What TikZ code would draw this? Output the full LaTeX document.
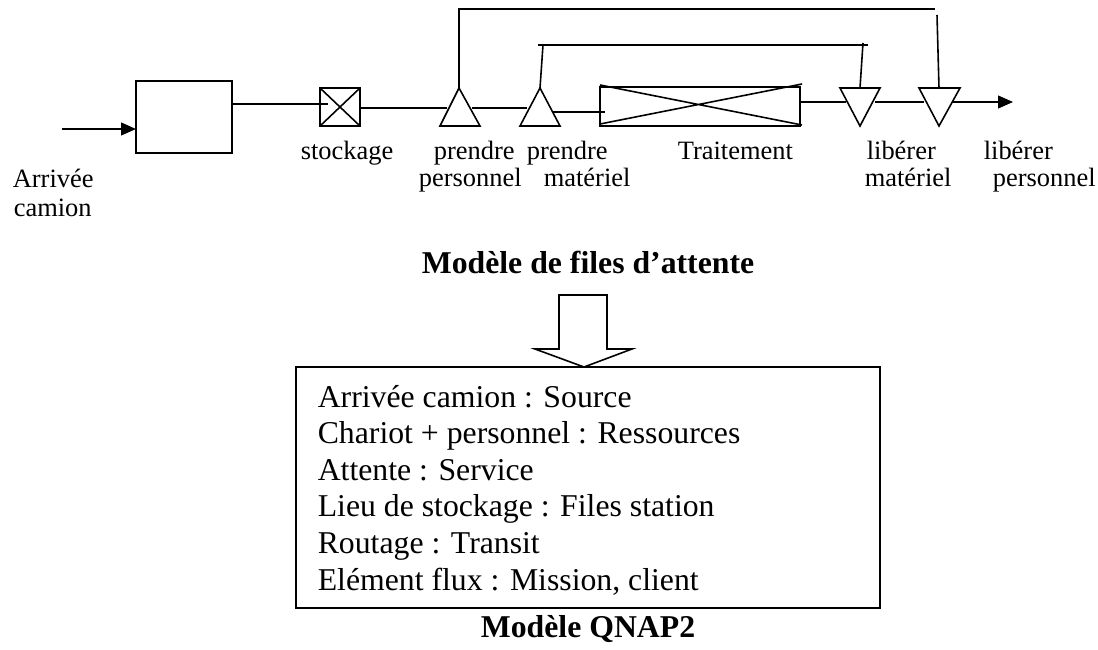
\documentclass[tikz,border=0pt]{standalone}
\usepackage{fontspec}
\setmainfont{Liberation Serif}
\usetikzlibrary{arrows.meta}
\begin{document}
\begin{tikzpicture}[x=0.378pt,y=-0.378pt,line width=0.6pt,
  lbl/.style={inner sep=0pt,anchor=base west,font=\fontsize{10}{12}\selectfont},
  txt/.style={inner sep=0pt,anchor=base west,font=\fontsize{12}{14}\selectfont},
  ttl/.style={inner sep=0pt,anchor=base,font=\fontsize{12}{14}\selectfont\bfseries},
  tip/.style={-{Triangle[length=5.6pt,width=4.8pt]}},
  shape line/.style={line width=0.6pt}]
\useasboundingbox (0,0) rectangle (1098,649);

% ---------- shapes ----------
% source box
\coordinate (srcNW) at (136,81);
\coordinate (srcSE) at (232,153);
\draw[shape line] (srcNW) rectangle (srcSE);
% storage square
\coordinate (stoNW) at (320,88);
\coordinate (stoSE) at (360,126);
\draw[shape line] (stoNW) rectangle (stoSE);
\draw[shape line] (320,88) -- (360,126) (320,126) -- (360,88);
% take personnel (triangle up)
\coordinate (t1apex) at (459,88);
\draw[shape line] (t1apex) -- (480,126) -- (440,126) -- cycle;
% take material
\coordinate (t2apex) at (540,88);
\draw[shape line] (t2apex) -- (560,126) -- (520,126) -- cycle;
% treatment box
\coordinate (trNW) at (600,87);
\coordinate (trSE) at (800,126);
\draw[shape line] (trNW) rectangle (trSE);
\draw[shape line] (600,85) -- (802,125) (600,124) -- (802,84);
% release material (triangle down)
\coordinate (t3top) at (860,88);
\draw[shape line] (840,88) -- (880,88) -- (860,126) -- cycle;
% release personnel
\coordinate (t4top) at (939,88);
\draw[shape line] (919,88) -- (960,88) -- (939,126) -- cycle;

% ---------- connector points ----------
\coordinate (inStart) at (62,129);
\coordinate (srcIn) at (136,129);
\coordinate (srcOut) at (232,104);
\coordinate (stoIn) at (328,104);
\coordinate (stoOut) at (360,108);
\coordinate (t1in) at (447,108);
\coordinate (t1out) at (472,108);
\coordinate (t2in) at (527,108);
\coordinate (t2out) at (553,112);
\coordinate (trIn) at (605,112);
\coordinate (trOut) at (800,102);
\coordinate (t3in) at (846,102);
\coordinate (t3out) at (875,102);
\coordinate (t4in) at (924,102);
\coordinate (t4out) at (953,102);
\coordinate (outEnd) at (1013,102);
\coordinate (fb1a) at (459,9);
\coordinate (fb1b) at (935,9);
\coordinate (fb1c) at (937,15);
\coordinate (fb2a) at (543,45);
\coordinate (fb2b) at (538,45);
\coordinate (fb2c) at (868,45);
\coordinate (fb2d) at (863,43);

% ---------- connectors ----------
\draw[tip] (inStart) -- (srcIn);
\draw (srcOut) -- (stoIn);
\draw (stoOut) -- (t1in);
\draw (t1out) -- (t2in);
\draw (t2out) -- (trIn);
\draw (trOut) -- (t3in);
\draw (t3out) -- (t4in);
\draw[tip] (t4out) -- (outEnd);
% feedback loops
\draw (t1apex) -- (fb1a) -- (fb1b);
\draw (fb1c) -- (t4top);
\draw (t2apex) -- (fb2a);
\draw (fb2b) -- (fb2c);
\draw (fb2d) -- (t3top);

% ---------- labels ----------
\node[lbl] (lArr) at (12,187) {Arrivée};
\node[lbl] (lCam) at (13,216) {camion};
\node[lbl] (lSto) at (300,159) {stockage};
\node[lbl] (lP1) at (433,159) {prendre};
\node[lbl] (lP1b) at (418,186) {personnel};
\node[lbl] (lP2) at (526,159) {prendre};
\node[lbl] (lP2b) at (543,186) {matériel};
\node[lbl] (lTr) at (677,159) {Traitement};
\node[lbl] (lL1) at (866,159) {libérer};
\node[lbl] (lL1b) at (864,186) {matériel};
\node[lbl] (lL2) at (983,159) {libérer};
\node[lbl] (lL2b) at (992,186) {personnel};

\node[ttl] (title1) at (588,273) {Modèle de files d’attente};

% ---------- block arrow ----------
\draw[shape line] (559,295) -- (607,295) -- (607,349) -- (632,349) -- (584,367)
  -- (535,349) -- (559,349) -- cycle;

% ---------- QNAP2 box ----------
\coordinate (qNW) at (296,367);
\coordinate (qSE) at (880,608);
\draw[shape line] (qNW) rectangle (qSE);
\node[txt] (q1) at (317,407) {Arrivée camion : Source};
\node[txt] (q2) at (317,443.6) {Chariot + personnel : Ressources};
\node[txt] (q3) at (317,480.2) {Attente : Service};
\node[txt] (q4) at (317,516.8) {Lieu de stockage : Files station};
\node[txt] (q5) at (317,553.4) {Routage : Transit};
\node[txt] (q6) at (317,590) {Elément flux : Mission, client};

\node[ttl] (title2) at (588,637) {Modèle QNAP2};
\end{tikzpicture}
\end{document}
